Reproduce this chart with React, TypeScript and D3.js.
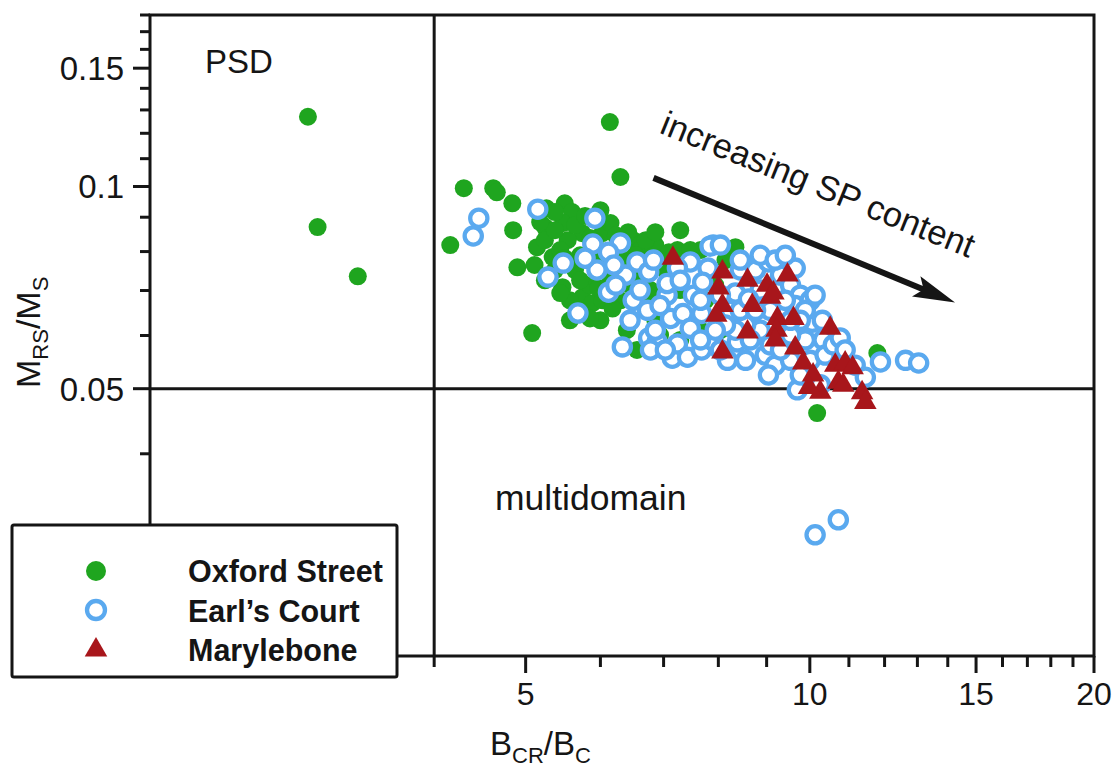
import React from "react";
import * as d3 from "d3";

// ---- data (B_CR/B_C, M_RS/M_S) ----
const oxfordStreet: [number, number][] = [
  [2.94, 0.127], [3.01, 0.087], [3.32, 0.0735], [4.16, 0.0818], [4.30, 0.0994], [4.62, 0.0994],
  [4.66, 0.098], [4.84, 0.0944], [4.85, 0.0861], [4.90, 0.0758], [5.08, 0.0605], [5.14, 0.0812],
  [5.24, 0.087], [5.50, 0.0944], [5.60, 0.0916], [5.48, 0.0882], [5.26, 0.0928], [5.74, 0.0852],
  [5.34, 0.0785], [5.47, 0.0708], [5.74, 0.0684], [5.88, 0.067], [5.64, 0.0751], [6.03, 0.0852],
  [5.24, 0.0832], [5.54, 0.0832], [5.81, 0.0777], [6.14, 0.1247], [6.30, 0.1033], [6.15, 0.0882],
  [6.50, 0.0832], [6.94, 0.0777], [6.40, 0.0611], [6.56, 0.0571], [6.03, 0.0677], [7.29, 0.0861],
  [8.34, 0.0812], [7.24, 0.0804], [11.79, 0.0565], [10.18, 0.046], [6.86, 0.0632], [5.44, 0.0804],
  [5.71, 0.079], [5.85, 0.0713], [6.15, 0.0725], [6.30, 0.0677], [6.38, 0.0777], [6.61, 0.0738],
  [6.78, 0.0701], [6.00, 0.079], [5.57, 0.0677], [5.37, 0.0751], [5.11, 0.0764], [5.92, 0.0818],
  [6.23, 0.0804], [6.61, 0.0804], [6.86, 0.0818], [7.03, 0.0751], [7.29, 0.0701], [7.47, 0.0632],
  [7.66, 0.0804], [7.94, 0.0713], [8.14, 0.0777], [7.75, 0.0677], [7.47, 0.0804], [5.24, 0.0725],
  [5.57, 0.0632], [6.00, 0.0632], [6.78, 0.0665], [6.94, 0.0601], [7.29, 0.0591], [7.66, 0.0611],
  [8.04, 0.0611],
  [5.37, 0.0861], [5.64, 0.0876], [5.85, 0.0838], [5.50, 0.0782], [5.71, 0.0725], [5.97, 0.0706],
  [6.08, 0.0764], [6.33, 0.0756], [6.23, 0.0846], [6.53, 0.079], [6.75, 0.0772], [7.09, 0.0798],
  [5.44, 0.0694], [5.68, 0.0654], [5.85, 0.0636], [6.18, 0.0658], [6.70, 0.0832], [5.18, 0.0885],
  [5.78, 0.0904], [6.00, 0.0922], [6.42, 0.0855], [6.86, 0.0855], [5.37, 0.0916], [6.15, 0.0689],
  [6.45, 0.0713],
];

const earlsCourt: [number, number][] = [
  [4.46, 0.0897], [4.40, 0.0844], [5.15, 0.0925], [5.48, 0.0769], [5.28, 0.0733], [5.68, 0.0648],
  [5.92, 0.0897], [5.89, 0.0821], [6.30, 0.0824], [6.12, 0.0798], [5.95, 0.0751], [6.38, 0.0738],
  [6.56, 0.0772], [6.75, 0.0746], [6.83, 0.0777], [6.12, 0.0696], [6.50, 0.0677], [6.73, 0.0654],
  [7.06, 0.0689], [7.12, 0.0636], [7.34, 0.0647], [7.53, 0.0689], [7.47, 0.0772], [7.90, 0.0818],
  [7.80, 0.0756], [7.70, 0.072], [7.47, 0.0615], [7.68, 0.0647], [6.75, 0.0595], [6.33, 0.0577],
  [6.89, 0.0587], [7.15, 0.0555], [7.24, 0.0583], [7.42, 0.0557], [7.68, 0.0571], [7.90, 0.0589],
  [8.18, 0.0551], [8.38, 0.0587], [8.24, 0.0654], [8.34, 0.0694], [7.24, 0.0756], [7.06, 0.0717],
  [8.44, 0.0751], [8.76, 0.0751], [8.86, 0.0701], [9.04, 0.0772], [9.31, 0.0738], [9.54, 0.0713],
  [9.77, 0.0689], [9.65, 0.0665], [10.01, 0.0677], [10.06, 0.0628], [10.31, 0.0632], [10.33, 0.0591],
  [9.89, 0.0591], [9.54, 0.0601], [8.86, 0.0611], [8.55, 0.0622], [8.76, 0.0571], [8.97, 0.0561],
  [9.19, 0.0542], [9.54, 0.0551], [10.01, 0.0551], [10.38, 0.0561], [10.59, 0.0581], [9.04, 0.0524],
  [9.70, 0.0498], [10.26, 0.0507], [11.17, 0.0542], [11.45, 0.052], [11.88, 0.0548], [12.63, 0.0551],
  [13.04, 0.0546], [10.72, 0.0319], [10.13, 0.0303], [8.44, 0.0654], [8.61, 0.068], [9.08, 0.0654],
  [9.42, 0.0677], [9.89, 0.0654], [9.08, 0.0581], [8.65, 0.0591], [8.34, 0.0611], [8.14, 0.0622],
  [7.94, 0.0611], [7.66, 0.0677], [7.29, 0.0725], [6.94, 0.0665], [6.61, 0.0701], [6.23, 0.0713],
  [6.45, 0.0632], [6.86, 0.0611], [7.66, 0.0591], [8.04, 0.0689], [8.44, 0.0777], [8.86, 0.079],
  [9.19, 0.0777], [9.65, 0.0756], [9.42, 0.079], [10.13, 0.0689], [9.77, 0.0632], [9.31, 0.0571],
  [10.77, 0.0595], [10.90, 0.0571], [7.84, 0.0815], [8.04, 0.0818], [6.20, 0.0764], [5.78, 0.0782],
  [6.78, 0.0571], [7.03, 0.0571], [8.04, 0.0571], [8.55, 0.0551], [8.76, 0.0654], [9.54, 0.0632],
  [9.77, 0.0524],
];

const marylebone: [number, number][] = [
  [7.16, 0.0782], [8.08, 0.0746], [8.00, 0.0706], [8.59, 0.0725], [9.47, 0.0738], [9.01, 0.0713],
  [9.08, 0.0684], [8.69, 0.0665], [8.08, 0.0665], [7.96, 0.0643], [8.59, 0.0607], [9.24, 0.0636],
  [9.61, 0.0636], [9.22, 0.0611], [9.19, 0.0591], [10.51, 0.0615], [9.65, 0.0575], [8.08, 0.0567],
  [9.84, 0.0546], [10.08, 0.0524], [10.64, 0.0542], [10.90, 0.0546], [10.72, 0.0511], [10.26, 0.0494],
  [10.85, 0.0506], [11.36, 0.0493], [11.45, 0.0477], [9.15, 0.0694], [11.10, 0.0537], [9.98, 0.0502],
];

const xMajorTicks = [5, 10, 15, 20];
const xMinorTicks = [2, 3, 4, 6, 7, 8, 9, 11, 12, 13, 14, 16, 17, 18, 19];
const yMajorTicks = [0.05, 0.1, 0.15];
const yMinorTicks = [0.02, 0.03, 0.04, 0.06, 0.07, 0.08, 0.09, 0.11, 0.12, 0.13, 0.14, 0.16, 0.17, 0.18];
const xDivider = 4;
const yDivider = 0.05;
const arrowFrom: [number, number] = [6.83, 0.103];
const arrowTo: [number, number] = [14.25, 0.0672];
const legendItems = ["Oxford Street", "Earl\u2019s Court", "Marylebone"];

const GREEN = "#1fa51f";
const BLUE = "#5aa9ef";
const RED = "#a8161b";
const INK = "#151515";
const FONT = "'Liberation Sans', Arial, Helvetica, sans-serif";

export default function App() {
  const W = 1115, H = 769;
  const x = d3.scaleLog().domain([2, 20]).range([150, 1094]);
  const y = d3.scaleLog().domain([0.02, 0.18]).range([656, 15]);
  const tri = d3.symbol(d3.symbolTriangle, 220)() as string;
  const fmt = (v: number) => String(v);

  const x0 = x.range()[0], x1 = x.range()[1];
  const y0 = y.range()[0], y1 = y.range()[1];

  const ax1 = x(arrowFrom[0]), ay1 = y(arrowFrom[1]);
  const ax2 = x(arrowTo[0]), ay2 = y(arrowTo[1]);
  const ang = Math.atan2(ay2 - ay1, ax2 - ax1);
  const headLen = 42, headW = 11;
  const bx = ax2 - headLen * Math.cos(ang), by = ay2 - headLen * Math.sin(ang);
  const px = -Math.sin(ang), py = Math.cos(ang);
  const head = `M${ax2},${ay2} L${bx + px * headW},${by + py * headW} L${bx + 8 * Math.cos(ang)},${by + 8 * Math.sin(ang)} L${bx - px * headW},${by - py * headW} Z`;

  return (
    <svg width={W} height={H} style={{ position: "absolute", left: 0, top: 0, background: "#fff" }} fontFamily={FONT}>
      <rect x={0} y={0} width={W} height={H} fill="#fff" />
      {/* frame */}
      <rect x={x0} y={y1} width={x1 - x0} height={y0 - y1} fill="none" stroke={INK} strokeWidth={3} />
      <line x1={x(xDivider)} x2={x(xDivider)} y1={y1} y2={y0} stroke={INK} strokeWidth={3} />
      <line x1={x0} x2={x1} y1={y(yDivider)} y2={y(yDivider)} stroke={INK} strokeWidth={3} />

      {/* y ticks */}
      {yMajorTicks.map((t) => (
        <g key={"ym" + t}>
          <line x1={x0 - 17} x2={x0} y1={y(t)} y2={y(t)} stroke={INK} strokeWidth={3} />
          <text x={x0 - 26} y={y(t)} dy="0.36em" textAnchor="end" fontSize={33} fill={INK}>{fmt(t)}</text>
        </g>
      ))}
      {yMinorTicks.map((t) => (
        <line key={"yn" + t} x1={x0 - 10} x2={x0} y1={y(t)} y2={y(t)} stroke={INK} strokeWidth={3} />
      ))}
      {/* x ticks */}
      {xMajorTicks.map((t) => (
        <g key={"xm" + t}>
          <line x1={x(t)} x2={x(t)} y1={y0} y2={y0 + 17} stroke={INK} strokeWidth={3} />
          <text x={x(t)} y={y0 + 49} textAnchor="middle" fontSize={32} fill={INK}>{fmt(t)}</text>
        </g>
      ))}
      {xMinorTicks.map((t) => (
        <line key={"xn" + t} x1={x(t)} x2={x(t)} y1={y0} y2={y0 + 11} stroke={INK} strokeWidth={3} />
      ))}

      {/* axis titles */}
      <text x={490} y={755} fontSize={33} fill={INK}>
        B<tspan fontSize={22} dy={8}>CR</tspan><tspan dy={-8}>/B</tspan><tspan fontSize={22} dy={8}>C</tspan>
      </text>
      <text transform="translate(40,388) rotate(-90)" fontSize={34} fill={INK}>
        M<tspan fontSize={22} dy={8}>RS</tspan><tspan dy={-8}>/M</tspan><tspan fontSize={22} dy={8}>S</tspan>
      </text>

      {/* region labels */}
      <text x={205} y={73} fontSize={33} fill={INK}>PSD</text>
      <text x={495} y={510} fontSize={35.5} fill={INK}>multidomain</text>

      {/* arrow annotation */}
      <line x1={ax1} y1={ay1} x2={bx + 10 * Math.cos(ang)} y2={by + 10 * Math.sin(ang)} stroke={INK} strokeWidth={6} />
      <path d={head} fill={INK} />
      <text transform={`translate(${x(6.91)},${y(0.1203)}) rotate(${22})`} fontSize={34.5} fill={INK}>
        increasing SP content
      </text>

      {/* data */}
      {oxfordStreet.map((d, i) => (
        <circle key={"o" + i} cx={x(d[0])} cy={y(d[1])} r={9} fill={GREEN} />
      ))}
      {earlsCourt.map((d, i) => (
        <circle key={"e" + i} cx={x(d[0])} cy={y(d[1])} r={8.6} fill="#fff" stroke={BLUE} strokeWidth={4.3} />
      ))}
      {marylebone.map((d, i) => (
        <path key={"m" + i} d={tri} transform={`translate(${x(d[0])},${y(d[1])})`} fill={RED} />
      ))}

      {/* legend */}
      <rect x={12} y={525} width={385} height={152} rx={2} fill="#fff" stroke={INK} strokeWidth={3} />
      <circle cx={96} cy={571} r={10} fill={GREEN} />
      <circle cx={96} cy={610} r={9} fill="#fff" stroke={BLUE} strokeWidth={4.3} />
      <path d={tri} transform="translate(96,650)" fill={RED} />
      {legendItems.map((s, i) => (
        <text key={s} x={188} y={582 + i * 39.5} fontSize={30.5} fontWeight="bold" fill={INK}>{s}</text>
      ))}
    </svg>
  );
}
